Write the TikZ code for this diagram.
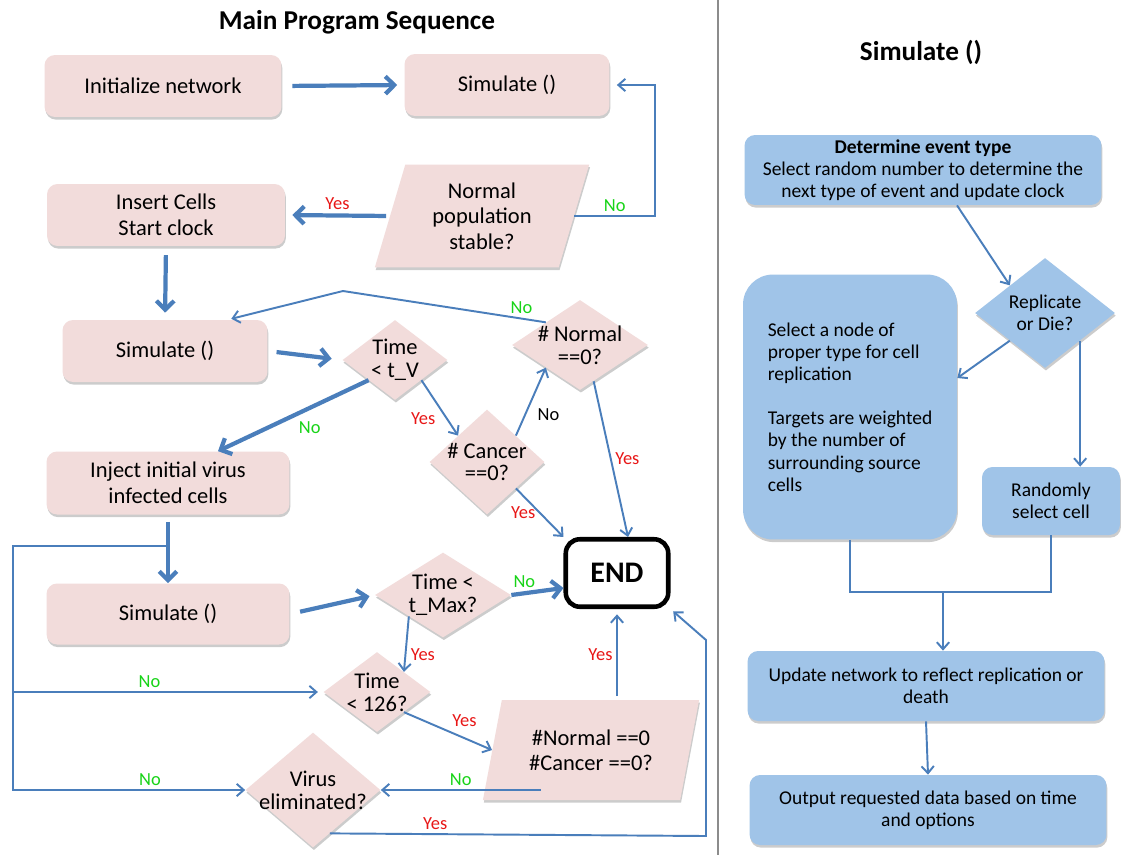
\documentclass[tikz,border=0pt]{standalone}
\usepackage{fontspec}
\setmainfont{Carlito}
\usetikzlibrary{arrows.meta, positioning, shapes.geometric, shadows, calc}
\definecolor{PK}{RGB}{242,220,219}
\definecolor{BL}{RGB}{160,196,232}
\definecolor{AR}{RGB}{74,126,187}
\definecolor{YR}{RGB}{232,22,22}
\definecolor{NG}{RGB}{24,212,24}
\definecolor{DV}{RGB}{140,140,140}
\begin{document}
\begin{tikzpicture}[x=0.02cm, y=-0.02cm,
  pbox/.style={fill=PK, rounded corners=6pt, align=center, inner sep=2pt,
               font=\fontsize{12.8}{14.5}\selectfont,
               drop shadow={shadow xshift=0.5pt, shadow yshift=-1.5pt, fill=black, opacity=0.2}},
  pgram/.style={pbox, trapezium, rounded corners=0pt, trapezium left angle=74,
                trapezium right angle=106, trapezium stretches=true},
  dia/.style={diamond, fill=PK, inner xsep=-12pt, inner ysep=-4pt, align=center,
              font=\fontsize{12.8}{13}\selectfont,
              drop shadow={shadow xshift=0.5pt, shadow yshift=-1.5pt, fill=black, opacity=0.2}},
  bbox/.style={pbox, fill=BL, font=\fontsize{11.1}{12.6}\selectfont},
  bdia/.style={dia, fill=BL, font=\fontsize{11.1}{12.6}\selectfont},
  endbox/.style={draw=black, fill=white, line width=2.6pt, rounded corners=8pt,
                 font=\bfseries\fontsize{17}{19}\selectfont,
                 minimum width=2.05cm, minimum height=1.35cm},
  ttl/.style={font=\bfseries\fontsize{15.5}{18}\selectfont},
  thk/.style={-{Straight Barb[length=5pt,width=10pt]}, line width=2.4pt, draw=AR},
  thn/.style={-{Straight Barb[length=4pt,width=7pt]}, line width=1.1pt, draw=AR},
  ln/.style={line width=1.1pt, draw=AR},
  yes/.style={font=\fontsize{10.5}{12}\selectfont, text=YR, inner sep=2pt},
  no/.style={font=\fontsize{10.5}{12}\selectfont, text=NG, inner sep=2pt}
]
\fill[white] (0,0) rectangle (1124,855);
\useasboundingbox (0,0) rectangle (1124,855);

% titles and divider
\node[ttl] (maintitle) at (357,22) {Main Program Sequence};
\node[ttl] (simtitle) at (921,52) {Simulate ()};
\draw[DV, line width=1.4pt] (718,0) -- (718,855);

% main program sequence
\node[pbox, minimum width=4.74cm, minimum height=1.24cm] (init) at (163,86) {Initialize network};
\node[pbox, minimum width=4.1cm, minimum height=1.24cm] (sim1) at (507,85) {Simulate ()};
\node[pgram, minimum width=4.3cm, minimum height=2.06cm] (stable) at (482,216) {Normal\\population\\stable?};
\node[pbox, minimum width=4.76cm, minimum height=1.24cm] (insert) at (166,215) {Insert Cells\\Start clock};
\node[pbox, minimum width=4.1cm, minimum height=1.24cm] (sim2) at (165,351) {Simulate ()};
\node[dia, minimum width=2.1cm, minimum height=1.6cm, shape aspect=1.3] (tv) at (395,360) {Time\\< t\_V};
\node[dia, minimum width=2.72cm, minimum height=1.8cm, shape aspect=1.5] (nnorm) at (580,345) {\# Normal\\==0?};
\node[dia, minimum width=2.3cm, minimum height=2.1cm, shape aspect=1.1] (ncanc) at (487,462) {\# Cancer\\==0?};
\node[pbox, minimum width=4.86cm, minimum height=1.26cm] (inject) at (168,483) {Inject initial virus\\infected cells};
\node[endbox] (end) at (617,573) {END};
\node[pbox, minimum width=4.86cm, minimum height=1.22cm] (sim3) at (168,614) {Simulate ()};
\node[dia, minimum width=2.72cm, minimum height=1.7cm, shape aspect=1.6] (tmax) at (443,595) {Time <\\t\_Max?};
\node[dia, minimum width=2.14cm, minimum height=1.6cm, shape aspect=1.35] (t126) at (377,692) {Time\\< 126?};
\node[pgram, minimum width=4.36cm, minimum height=2.0cm] (both) at (591,750) {\#Normal ==0\\\#Cancer ==0?};
\node[dia, minimum width=2.7cm, minimum height=2.3cm, shape aspect=1.17] (virus) at (313,790) {Virus\\eliminated?};

% simulate ()
\node[bbox, minimum width=7.14cm, minimum height=1.4cm] (event) at (923,170)
  {\textbf{Determine event type}\\Select random number to determine the\\next type of event and update clock};
\node[bdia, minimum width=2.8cm, minimum height=2.2cm, shape aspect=1.27] (rep) at (1045,313) {Replicate\\or Die?};
\node[bbox, rounded corners=0.6cm, minimum width=4.28cm, minimum height=5.3cm, align=left] (select) at (850,407)
  {Select a node of\\proper type for cell\\replication\\[12.6pt]Targets are weighted\\by the number of\\surrounding source\\cells};
\node[bbox, minimum width=2.76cm, minimum height=1.36cm] (rand) at (1051,501) {Randomly\\select cell};
\node[bbox, minimum width=7.14cm, minimum height=1.4cm] (update) at (926,686) {Update network to reflect replication or\\death};
\node[bbox, minimum width=7.14cm, minimum height=1.4cm] (output) at (928,810) {Output requested data based on time\\and options};

\coordinate (rs) at (655,85);
\coordinate (bend) at (343,291);
\coordinate (railbot) at (13,790);
\coordinate (railmid) at (13,692);
\coordinate (yb) at (706,836);
\coordinate (yt) at (706,640);
\coordinate (merge) at (943,592);

% connectors, left
\draw[thk, shorten <=6pt, shorten >=4pt] (init.east) -- (sim1.west);
\draw[thk, shorten <=2pt, shorten >=4pt] (stable.west) -- node[above, yes]{Yes} (insert.east);
\draw[thn, shorten >=4pt] (stable.east) -| node[pos=0.25, above, no]{No} (rs) -- (sim1.east);
\draw[thk, shorten <=5pt, shorten >=4pt] (insert.south) -- (sim2.north);
\draw[thn, shorten >=2pt] (nnorm.north west) -- node[pos=0.12, above, no]{No} (bend) -- ([xshift=-0.8cm]sim2.north east);
\draw[thk, shorten <=5pt, shorten >=6pt] (sim2.east) -- (tv.west);
\draw[thk] (tv.south west) -- node[midway, below right, no]{No} ([xshift=1cm]inject.north);
\draw[thn] (tv.south east) -- node[midway, below left, yes]{Yes} (ncanc.north west);
\draw[thn] (ncanc.north east) -- node[midway, below right, font=\fontsize{10.5}{12}\selectfont]{No} (nnorm.south west);
\draw[thn] ($(nnorm.south)!0.2!(nnorm.east)$) -- node[midway, right, yes]{Yes} ([xshift=0.22cm]end.north);
\draw[thn] (ncanc.south east) -- node[midway, left, yes]{Yes} (end.north west);
\draw[thk, shorten <=4pt] (inject.south) -- coordinate[pos=0.45] (jn) (sim3.north);
\draw[thn] (jn) -| (railbot) -- node[pos=0.59, above, no]{No} (virus.west);
\draw[thn, shorten >=3pt] (railmid) -- node[pos=0.44, above, no]{No} (t126.west);
\draw[thk, shorten <=6pt, shorten >=3pt] (sim3.east) -- (tmax.west);
\draw[thk] (tmax.east) -- node[pos=0.25, above, no]{No} ([yshift=-0.3cm]end.west);
\draw[thn] (tmax.south west) -- node[midway, below right, yes]{Yes} (t126.north east);
\draw[thn] (t126.south east) -- node[midway, above right, yes]{Yes} (both.west);
\draw[thn, shorten <=2pt, shorten >=3pt] (both.north -| end.south) -- node[midway, left, yes]{Yes} (end.south);
\draw[thn] (virus.east -| both.south west) -- node[midway, above, no]{No} (virus.east);
\draw[thn, shorten >=2pt] ($(virus.south)!0.25!(virus.east)$) -- node[pos=0.28, above, yes]{Yes} (yb) -- (yt) -- (end.south east);

% connectors, right
\draw[thn] ([xshift=0.68cm]event.south) -- (rep.north west);
\draw[thn] (rep.south west) -- ([yshift=0.58cm]select.east);
\draw[thn] (rep.south east) -- (rep.south east |- rand.north);
\draw[ln] (select.south) |- (merge) -| (rand.south);
\draw[thn] (merge) -- (merge |- update.north);
\draw[thn] (update.south) -- (output.north);
\end{tikzpicture}
\end{document}
